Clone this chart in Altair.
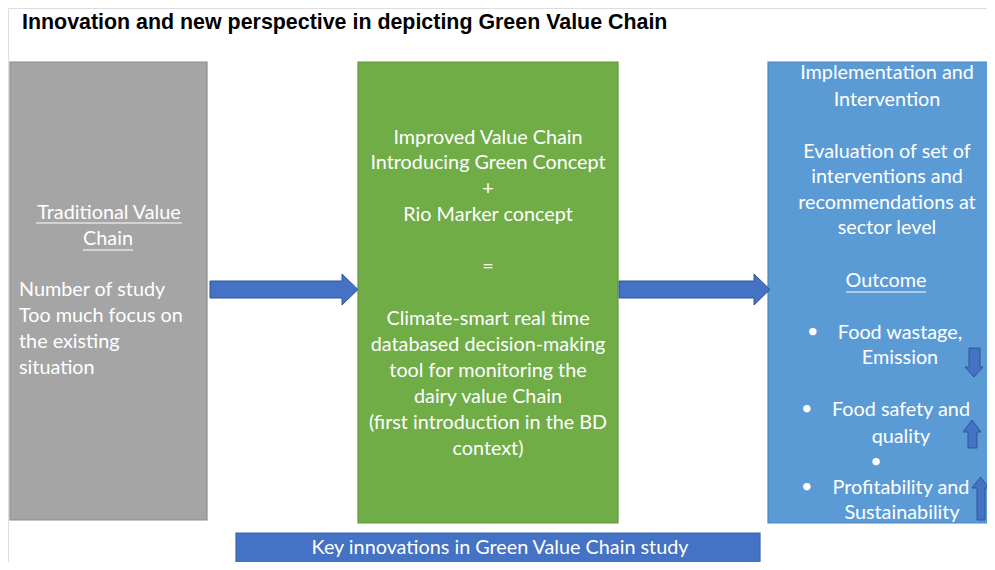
import altair as alt
import pandas as pd

# ---- content -------------------------------------------------------------
title_text = "Innovation and new perspective in depicting Green Value Chain"

box_names = ["traditional", "improved", "implementation", "key"]
box_x0 = [10, 358, 768, 236]
box_x1 = [207, 618, 1006, 760]
box_y0 = [62, 62, 62, 533]
box_y1 = [520, 523, 523, 575]
box_fill = ["#a5a5a5", "#70ad47", "#5b9bd5", "#4472c4"]
box_stroke = ["#8e8e8e", "#5f9a3b", "#4b88c2", "#3a64b0"]

# centred text lines: text, x centre, y centre
center_text = [
    "Traditional Value", "Chain",
    "Improved Value Chain", "Introducing Green Concept", "+", "Rio Marker concept",
    "=", "Climate-smart real time", "databased decision-making",
    "tool for monitoring the", "dairy value Chain",
    "(first introduction in the BD", "context)",
    "Implementation and", "Intervention",
    "Evaluation of set of", "interventions and", "recommendations at", "sector level",
    "Outcome",
    "Food wastage,", "Emission", "Food safety and", "quality", "•",
    "Profitability and", "Sustainability",
    "Key innovations in Green Value Chain study",
]
center_x = [109, 108,
            488, 488, 488, 488,
            488, 488, 488,
            488, 488,
            488, 488,
            887, 887,
            887, 887, 887, 887,
            886,
            900, 900, 901, 901, 876,
            901, 902,
            500]
center_y = [213, 239,
            138, 163, 189, 215,
            267, 319, 345,
            371, 397,
            423, 449,
            73, 100,
            152, 177, 203, 228,
            281,
            333, 358, 410, 437, 462,
            488, 513,
            548]

left_text = ["Number of study", "Too much focus on", "the existing", "situation",
             "•", "•", "•"]
left_x = [19, 19, 19, 19, 807, 801, 801]
left_y = [290, 316, 342, 368, 332, 409, 487]

# underlines: x start, x end, y
ul_x0 = [36, 83, 846]
ul_x1 = [182, 133, 926]
ul_y = [223, 250, 292]

# horizontal arrows (outline points): arrow id, x, y top, y bottom
harrow_id = ["a1"] * 4 + ["a2"] * 4
harrow_x = [210, 342, 342.01, 358, 619, 754, 754.01, 770]
harrow_yt = [281, 281, 274, 289.5, 281, 281, 274, 289.5]
harrow_yb = [298, 298, 305, 289.5, 298, 298, 305, 289.5]

# vertical arrows: arrow id, y, x left, x right
varrow_id = ["d"] * 4 + ["u1"] * 4 + ["u2"] * 4
varrow_y = [348, 366.99, 367, 377,
            420, 432, 432.01, 448,
            477, 488, 488.01, 520]
varrow_xl = [969, 969, 965, 974,
             972, 963, 968, 968,
             980.5, 972, 977, 977]
varrow_xr = [980, 980, 983, 974,
             972, 981, 977, 977,
             980.5, 989, 985, 985]

# ---- tables -------------------------------------------------------------
boxes = pd.DataFrame(dict(name=box_names, x0=box_x0, x1=box_x1, y0=box_y0,
                          y1=box_y1, fill=box_fill, stroke=box_stroke))
ctext = pd.DataFrame(dict(t=center_text, x=center_x, y=center_y))
ltext = pd.DataFrame(dict(t=left_text, x=left_x, y=left_y))
ulines = pd.DataFrame(dict(x0=ul_x0, x1=ul_x1, y=ul_y))
harr = pd.DataFrame(dict(id=harrow_id, x=harrow_x, yt=harrow_yt, yb=harrow_yb))
varr = pd.DataFrame(dict(id=varrow_id, y=varrow_y, xl=varrow_xl, xr=varrow_xr))
ttl = pd.DataFrame(dict(t=[title_text], x=[22], y=[23]))

X = alt.Scale(domain=[8, 987], nice=False, zero=False)
Y = alt.Scale(domain=[8, 562], nice=False, zero=False, reverse=True)


def xq(f, **kw):
    return alt.X(f, type="quantitative", scale=X, axis=None, **kw)


def yq(f, **kw):
    return alt.Y(f, type="quantitative", scale=Y, axis=None, **kw)


rects = alt.Chart(boxes).mark_rect(strokeWidth=1.2, clip=True).encode(
    x=xq("x0"), x2="x1", y=yq("y0"), y2="y1",
    fill=alt.Fill("fill:N", scale=None),
    stroke=alt.Stroke("stroke:N", scale=None),
)

h_arrows = alt.Chart(harr).mark_area(
    fill="#4472c4", stroke="#2f5597", strokeWidth=1, interpolate="linear",
    orient="vertical"
).encode(x=xq("x"), y=yq("yt", stack=None), y2="yb", detail="id:N")

v_arrows = alt.Chart(varr).mark_area(
    fill="#4472c4", stroke="#2f5597", strokeWidth=1, interpolate="linear",
    orient="horizontal"
).encode(y=yq("y"), x=xq("xl", stack=None), x2="xr", detail="id:N")

ct = alt.Chart(ctext).mark_text(
    font="Lato", fontSize=19.8, color="white", align="center", baseline="middle"
).encode(x=xq("x"), y=yq("y"), text="t:N")

lt = alt.Chart(ltext).mark_text(
    font="Lato", fontSize=19.8, color="white", align="left", baseline="middle"
).encode(x=xq("x"), y=yq("y"), text="t:N")

ul = alt.Chart(ulines).mark_rule(color="white", strokeWidth=1.2).encode(
    x=xq("x0"), x2="x1", y=yq("y"))

title = alt.Chart(ttl).mark_text(
    font="Liberation Sans", fontWeight="bold", fontSize=21.4, color="black",
    align="left", baseline="middle"
).encode(x=xq("x"), y=yq("y"), text="t:N")

chart = alt.layer(rects, h_arrows, v_arrows, ct, lt, ul, title).properties(
    width=979, height=554, padding=0,
    autosize=alt.AutoSizeParams(type="none"),
).configure_view(strokeWidth=0, stroke="transparent").configure(background="transparent")

chart.save("out.html", embed_options={"renderer": "svg", "actions": False})
